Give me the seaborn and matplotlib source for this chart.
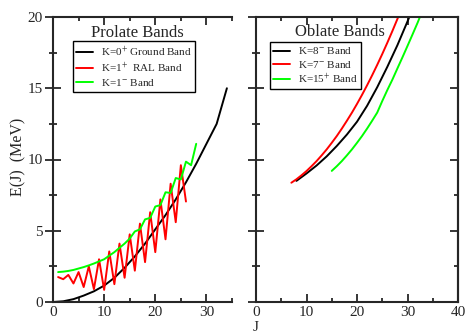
import matplotlib
matplotlib.use("Agg")
import matplotlib.pyplot as plt
from matplotlib.ticker import MultipleLocator
import seaborn as sns
import pandas as pd

sns.set_style("ticks")
plt.rcParams['font.family'] = ['Liberation Serif', 'DejaVu Serif']
plt.rcParams['mathtext.fontset'] = 'stix'

# ---------------- data ----------------
# Prolate bands
gs_J = [0, 2, 4, 6, 8, 10, 12, 14, 16, 18, 20, 22, 24, 26, 28, 30, 32, 34]
gs_E = [0.0, 0.05, 0.2, 0.45, 0.75, 1.15, 1.7, 2.4, 3.2, 4.1, 5.1, 6.1, 7.2,
        8.4, 9.7, 11.1, 12.5, 15.0]

ral_J = list(range(1, 27))
ral_E = [1.75, 1.6, 1.9, 1.3, 2.1, 1.05, 2.5, 0.9, 3.0, 0.85, 3.55, 1.25, 4.1,
         1.7, 4.75, 2.2, 5.5, 2.8, 6.3, 3.5, 7.2, 4.4, 8.3, 5.6, 9.6, 7.05]

neg_J = list(range(1, 29))
neg_E = [2.1, 2.13, 2.18, 2.25, 2.35, 2.45, 2.57, 2.7, 2.85, 3.0, 3.25, 3.5,
         3.8, 4.1, 4.45, 4.95, 5.1, 5.8, 5.9, 6.7, 6.8, 7.7, 7.65, 8.7, 8.6,
         9.85, 9.6, 11.1]

# Oblate bands
k8_J = [8, 10, 12, 14, 16, 18, 20, 22, 24, 26, 28, 30, 31]
k8_E = [8.5, 9.02, 9.58, 10.22, 10.95, 11.75, 12.65, 13.77, 15.07, 16.5,
        18.02, 19.69, 20.56]

k7_J = list(range(7, 30))
k7_E = [8.37, 8.61, 8.89, 9.19, 9.53, 9.89, 10.29, 10.71, 11.17, 11.65, 12.17,
        12.72, 13.29, 13.90, 14.54, 15.21, 15.91, 16.64, 17.40, 18.19, 19.01,
        19.86, 20.74]

k15_J = list(range(15, 34))
k15_E = [9.2, 9.53, 9.89, 10.29, 10.71, 11.17, 11.65, 12.17, 12.72, 13.29,
         14.1, 14.87, 15.6, 16.39, 17.17, 17.97, 18.78, 19.6, 20.48]

prolate_labels = ["K=0$^{+}$ Ground Band", "K=1$^{+}$  RAL Band", "K=1$^{-}$ Band"]
oblate_labels = ["K=8$^{-}$ Band", "K=7$^{-}$ Band", "K=15$^{+}$ Band"]

# ---------------- figure ----------------
fig = plt.figure(figsize=(4.69, 3.35), dpi=100)
axL = fig.add_axes([53/469, 33/335, 179/469, 285/335])
axR = fig.add_axes([256/469, 33/335, 202/469, 285/335])

lw = 1.4
sns.lineplot(x=gs_J, y=gs_E, ax=axL, color='black', lw=lw, label=prolate_labels[0])
sns.lineplot(x=ral_J, y=ral_E, ax=axL, color='#ff0000', lw=lw, label=prolate_labels[1])
sns.lineplot(x=neg_J, y=neg_E, ax=axL, color='#00ff00', lw=lw, label=prolate_labels[2])

sns.lineplot(x=k8_J, y=k8_E, ax=axR, color='black', lw=lw, label=oblate_labels[0])
sns.lineplot(x=k7_J, y=k7_E, ax=axR, color='#ff0000', lw=lw, label=oblate_labels[1])
sns.lineplot(x=k15_J, y=k15_E, ax=axR, color='#00ff00', lw=lw, label=oblate_labels[2])

axL.set_xlim(0, 35)
axR.set_xlim(0, 40)
for ax in (axL, axR):
    ax.set_ylim(0, 20)
    ax.set_xlabel('')
    ax.set_ylabel('')
    ax.xaxis.set_major_locator(MultipleLocator(10))
    ax.xaxis.set_minor_locator(MultipleLocator(5))
    ax.yaxis.set_major_locator(MultipleLocator(5))
    ax.yaxis.set_minor_locator(MultipleLocator(2.5))
    for s in ax.spines.values():
        s.set_linewidth(1.5)
    ax.tick_params(axis='x', which='both', direction='in', top=True, bottom=True,
                   width=1.3, labelsize=11, pad=3)
    ax.tick_params(axis='x', which='major', length=5.5)
    ax.tick_params(axis='x', which='minor', length=3)
    ax.tick_params(axis='y', which='both', direction='inout', left=True, right=False,
                   width=1.3, labelsize=11, pad=2)
    ax.tick_params(axis='y', which='major', length=11)
    ax.tick_params(axis='y', which='minor', length=6)
    ax.patch.set_alpha(0)

axL.spines['right'].set_visible(False)
axR.tick_params(axis='y', labelleft=False)

sec = axR.secondary_yaxis('right')
sec.yaxis.set_major_locator(MultipleLocator(5))
sec.yaxis.set_minor_locator(MultipleLocator(2.5))
sec.tick_params(which='both', direction='in', labelright=False, width=1.3)
sec.tick_params(which='major', length=5.5)
sec.tick_params(which='minor', length=3)
sec.spines['right'].set_linewidth(1.5)

legkw = dict(loc='upper left', frameon=True, fancybox=False, framealpha=1,
             edgecolor='black', fontsize=8, handlelength=1.5, handletextpad=0.7,
             labelspacing=0.2, borderpad=0.3, borderaxespad=0)
legL = axL.legend(bbox_to_anchor=(0.112, 0.916), **legkw)
legR = axR.legend(bbox_to_anchor=(0.069, 0.912), **legkw)
for lg in (legL, legR):
    lg.get_frame().set_linewidth(1.0)

axL.text(0.47, 0.944, 'Prolate Bands', transform=axL.transAxes,
         ha='center', va='center', fontsize=12)
axR.text(0.416, 0.947, 'Oblate Bands', transform=axR.transAxes,
         ha='center', va='center', fontsize=12)

fig.text(256/469, 1/335, 'J', ha='center', va='bottom', fontsize=11)
fig.text(0.039, 0.533, 'E(J)  (MeV)', rotation=90, ha='center', va='center',
         fontsize=11.5)

fig.savefig('out.png', dpi=100)
